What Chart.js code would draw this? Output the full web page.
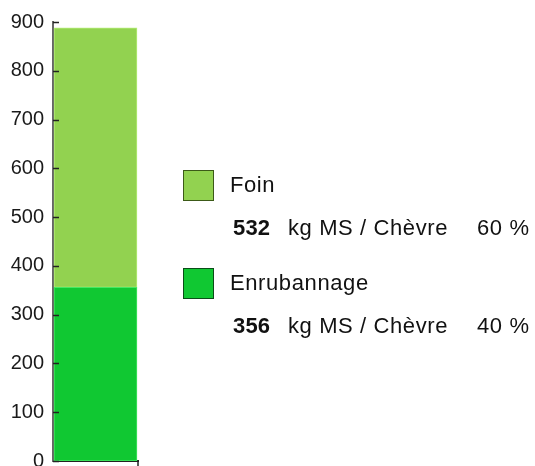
<!DOCTYPE html>
<html>
<head>
<meta charset="utf-8">
<script src="https://cdn.jsdelivr.net/npm/chart.js@4/dist/chart.umd.min.js"></script>
<style>
  html, body { margin: 0; padding: 0; background: #fff; overflow: hidden; }
  #wrap { position: relative; width: 535px; height: 482px; }
  #chart { position: absolute; left: 0; top: 0; }
  .box { position: absolute; left: 183px; width: 29px; height: 29px; border: 1px solid #2f4a14; }
  .txt { position: absolute; font-family: "Liberation Sans", Arial, sans-serif; font-size: 22px;
         line-height: 22px; color: #111; letter-spacing: 0.6px; white-space: nowrap; }
  .num { font-weight: bold; letter-spacing: 0.2px; }
</style>
</head>
<body>
<div id="wrap">
  <canvas id="chart" width="535" height="482"></canvas>
  <div id="legend"></div>
</div>
<script>
const categories = [''];
const seriesNames = ['Enrubannage', 'Foin'];
const enrubannage = [356];
const foin = [532];
const percents = [40, 60];
const unitLabel = 'kg MS / Chèvre';
const yTicks = [0, 100, 200, 300, 400, 500, 600, 700, 800, 900];
const colors = ['rgb(16,200,50)', 'rgb(146,210,80)'];
const borders = ['rgb(70,232,100)', 'rgb(182,238,120)'];
const boxBorders = ['#0b4d18', '#3c5a18'];

// little inward ticks on the y axis, plus the end tick of the x axis
const innerTicks = {
    id: 'innerTicks',
    afterDraw: chart => {
        const ctx = chart.ctx
        const y = chart.scales.y
        const a = chart.chartArea
        ctx.save()
        ctx.strokeStyle = '#222'
        ctx.lineWidth = 1.5
        y.ticks.forEach(t => {
            const py = Math.round(y.getPixelForValue(t.value)) + 0.5
            ctx.beginPath()
            ctx.moveTo(a.left, py)
            ctx.lineTo(a.left + 6, py)
            ctx.stroke()
        })
        ctx.beginPath()
        ctx.moveTo(a.right, a.bottom)
        ctx.lineTo(a.right, a.bottom + 5)
        ctx.stroke()
        ctx.restore()
    }
}

new Chart(document.getElementById('chart').getContext('2d'), {
    type: 'bar',
    data: {
        labels: categories,
        datasets: [
            { label: seriesNames[0], data: enrubannage, backgroundColor: colors[0], borderColor: borders[0], borderWidth: 1, borderSkipped: false },
            { label: seriesNames[1], data: foin, backgroundColor: colors[1], borderColor: borders[1], borderWidth: 1, borderSkipped: false }
        ]
    },
    options: {
        responsive: false,
        animation: false,
        layout: { padding: { top: 22, right: 397, bottom: 10, left: 0 } },
        plugins: { legend: { display: false }, tooltip: { enabled: false } },
        scales: {
            x: {
                stacked: true,
                offset: true,
                grid: { display: false, drawTicks: false, offset: true },
                ticks: { display: false },
                border: { display: true, color: '#222', width: 2 }
            },
            y: {
                stacked: true,
                min: 0,
                max: 900,
                afterBuildTicks: scale => { scale.ticks = yTicks.map(v => ({ value: v })) },
                afterFit: scale => { scale.width = 53 },
                grid: { display: false, drawTicks: false },
                border: { display: true, color: '#666', width: 2 },
                ticks: {
                    padding: 9,
                    color: '#1a1a1a',
                    font: { family: '"Liberation Sans", Arial, sans-serif', size: 20 }
                }
            }
        },
        datasets: { bar: { barThickness: 83 } }
    },
    plugins: [innerTicks]
});

// legend on the right: Foin first, then Enrubannage
const legend = document.getElementById('legend')
const values = [enrubannage[0], foin[0]]
const rows = [1, 0]
const rowTops = [170, 268]
rows.forEach((s, i) => {
    const top = rowTops[i]
    legend.insertAdjacentHTML('beforeend',
        `<div class="box" style="top:${top}px;background:${colors[s]};border-color:${boxBorders[s]}"></div>` +
        `<div class="txt" style="left:230px;top:${top + 4}px">${seriesNames[s]}</div>` +
        `<div class="txt num" style="left:233px;top:${top + 47}px">${values[s]}</div>` +
        `<div class="txt" style="left:288px;top:${top + 47}px">${unitLabel}</div>` +
        `<div class="txt" style="left:477px;top:${top + 47}px">${percents[s]} %</div>`)
})
</script>
</body>
</html>
